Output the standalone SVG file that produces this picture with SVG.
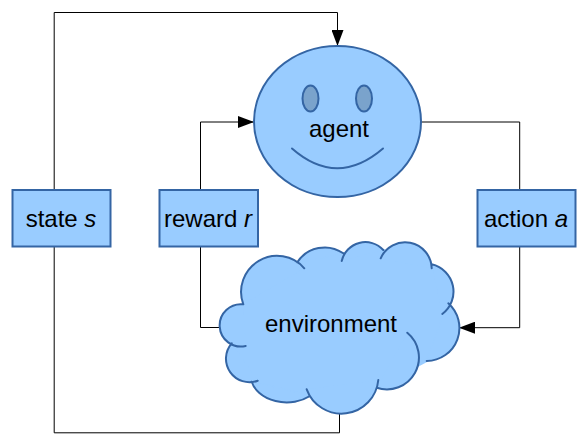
<svg xmlns="http://www.w3.org/2000/svg" width="585" height="445" viewBox="0 0 585 445">
<style>
text{font-family:"Liberation Sans",Arial,sans-serif;font-size:24px;fill:#000;text-anchor:middle}
.n{fill:#99ccff;stroke:#3465a4;stroke-width:2}
.f{fill:#99ccff;stroke:#99ccff;stroke-width:2}
.o{fill:none;stroke:#3465a4;stroke-width:2;stroke-linecap:round}
.c{fill:none;stroke:#000;stroke-width:1}
.a{fill:none;stroke:#000;stroke-width:1;marker-end:url(#arrow)}
</style>
<defs><marker id="arrow" markerUnits="userSpaceOnUse" markerWidth="17" markerHeight="12" refX="16" refY="6" orient="auto"><path d="M0 0L16 6L0 12Z" fill="#000"/></marker></defs>
<g id="connectors">
<path class="a" d="M54.200 190V12.500H337.500V46"/>
<path class="c" d="M54.200 246V432.800H339.500V413"/>
<path class="a" d="M200.500 190V122H254"/>
<path class="c" d="M200.500 246V327.500H221"/>
<path class="c" d="M421 122H519.700V190"/>
<path class="a" d="M519.700 246V327.700H459"/>
</g>
<g id="agent">
<ellipse class="n" cx="337.500" cy="121.500" rx="83.500" ry="75.500"/>
<ellipse cx="310.500" cy="98.500" rx="8" ry="13" fill="#7aa3cc" stroke="#3465a4" stroke-width="2"/>
<ellipse cx="364" cy="98.500" rx="8" ry="13" fill="#7aa3cc" stroke="#3465a4" stroke-width="2"/>
<path class="o" d="M292 148.500Q337 188 383 148.500"/>
<text x="339" y="137">agent</text>
</g>
<g id="environment">
<path class="f" d="M243.300 304.300L231.700 343.300L251.700 381.700L310 396L376.700 387.700L426.700 361L448.300 303.300L431.700 264.300L383.300 250L343.300 253.300L297.300 262.300Z"/>
<path class="n" stroke-linecap="round" d="M243.300 304.300A21.200 21.200 0 1 0 245.700 346M231.700 343.300A23.500 23.500 0 0 0 257.700 380.700M251.700 381.700A36 27 0 0 0 310 396M306.700 389.300A37 37 0 0 0 378.300 380M376.700 387.700A32 32 0 0 0 407.300 332.700M426.700 361A33 33 0 0 0 448.300 303.300M442.300 314A28 28 0 0 0 431.700 264.300M431.700 268.300A26.600 26.600 0 0 0 380.700 258.300M383.300 250A24.300 24.300 0 0 0 341.700 261M343.300 253.300A32.600 32.600 0 0 0 297.300 262.300M304.300 268.300A36 36 0 0 0 243.300 304.300"/>
<text x="331" y="332">environment</text>
</g>
<g id="state"><rect class="n" x="12.500" y="190" width="98" height="56.500"/><text x="61" y="227">state <tspan font-style="italic">s</tspan></text></g>
<g id="reward"><rect class="n" x="159.500" y="190" width="98.500" height="56.500"/><text x="208" y="227">reward <tspan font-style="italic">r</tspan></text></g>
<g id="action"><rect class="n" x="477.500" y="190" width="98" height="56.500"/><text x="526" y="227">action <tspan font-style="italic">a</tspan></text></g>
</svg>
